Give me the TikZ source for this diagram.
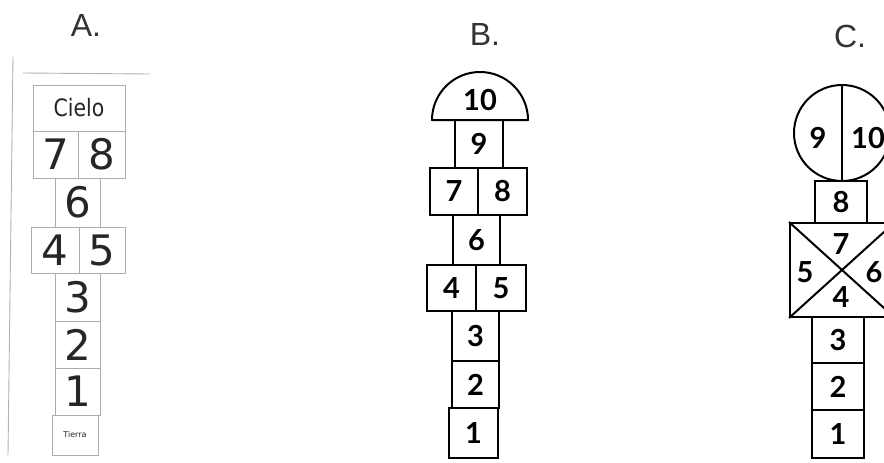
\documentclass[tikz,border=0pt]{standalone}
\usepackage{fontspec}
\setmainfont{DejaVu Sans}
\newfontfamily\lblfont{Liberation Sans}
\newfontfamily\afont{DejaVu Sans}
\newfontfamily\bfont{Lato}
\begin{document}
\begin{tikzpicture}[x=1pt,y=-1pt,
  acell/.style 2 args={draw=gray!65, line width=0.9pt, rectangle, inner sep=0pt,
     minimum width=#1pt, minimum height=#2pt, text=black!85, font=\afont\fontsize{42}{42}\selectfont},
  bcell/.style 2 args={draw=black, line width=2pt, rectangle, inner sep=0pt,
     minimum width=#1pt, minimum height=#2pt, font=\bfont\bfseries\fontsize{29}{29}\selectfont},
  blabel/.style={inner sep=0pt, font=\bfont\bfseries\fontsize{29}{29}\selectfont},
  title/.style={inner sep=0pt, font=\lblfont\fontsize{32}{32}\selectfont, text=black!80},
  guide/.style={draw=gray!60, line width=0.9pt}]
\clip (0,0) rectangle (884,463);
\fill[white] (0,0) rectangle (884,463);

% ---------- A ----------
\node[title] (tA) at (86,25) {A.};
\coordinate (gA1) at (13,57);
\coordinate (gA2) at (8,455);
\coordinate (gA3) at (23,73);
\coordinate (gA4) at (150,74);
\draw[guide] (gA1) -- (gA2);
\draw[guide] (gA3) -- (gA4);
\node[acell={92}{46}, font=\afont\fontsize{24}{24}\selectfont] (cielo) at (79,108) {\addfontfeature{FakeStretch=0.85}Cielo};
\node[acell={45}{47}] (a7) at (55.5,154.5) {7};
\node[acell={47}{47}] (a8) at (101.5,154.5) {8};
\node[acell={45}{49}] (a6) at (77.5,202.5) {6};
\node[acell={48}{46}] (a4) at (55,250) {4};
\node[acell={46}{46}] (a5) at (102,250) {5};
\node[acell={45}{48}] (a3) at (77.5,297) {3};
\node[acell={45}{47}] (a2) at (77.5,344.5) {2};
\node[acell={45}{47}] (a1) at (77.5,391.5) {1};
\node[acell={46}{40}, font=\afont\fontsize{8}{8}\selectfont] (tierra) at (75,435) {Tierra};

% ---------- B ----------
\node[title] (tB) at (485,34) {B.};
\coordinate (domeL) at (432,120);
\coordinate (domeR) at (528,120);
\draw[line width=2pt, line join=round] (domeL) arc[start angle=180, end angle=0, radius=48pt] -- (domeL) -- cycle;
\node[blabel] (b10) at (480,100) {10};
\node[bcell={48}{48}] (b9) at (479,144) {9};
\node[bcell={48}{47}] (b7) at (454,191.5) {7};
\node[bcell={49}{47}] (b8) at (502.5,191.5) {8};
\node[bcell={47}{50}] (b6) at (476.5,240) {6};
\node[bcell={49}{46}] (b4) at (451.5,288) {4};
\node[bcell={50}{46}] (b5) at (501,288) {5};
\node[bcell={47}{50}] (b3) at (475.5,336) {3};
\node[bcell={47}{47}] (b2) at (475.5,384.5) {2};
\node[bcell={49}{50}] (b1) at (473.5,433) {1};

% ---------- C ----------
\node[title] (tC) at (850,36) {C.};
\node[draw, line width=2pt, circle, minimum size=96pt, inner sep=0pt] (circ) at (842,133) {};
\draw[line width=2pt] (circ.north) -- (circ.south);
\node[blabel] (c9) at (818,138) {9};
\node[blabel] (c10) at (868,138) {10};
\node[bcell={52}{42}] (c8) at (841,202) {8};
\node[bcell={104}{94}] (xbox) at (842,270) {};
\draw[line width=2pt] (xbox.north west) -- (xbox.south east);
\draw[line width=2pt] (xbox.north east) -- (xbox.south west);
\node[blabel] (c7) at (841,244) {7};
\node[blabel] (c5) at (805,272) {5};
\node[blabel] (c6) at (874,272) {6};
\node[blabel] (c4) at (841,297) {4};
\node[bcell={52}{46}] (c3) at (838,340) {3};
\node[bcell={52}{47}] (c2) at (838,386.5) {2};
\node[bcell={52}{48}] (c1) at (838,434) {1};
\end{tikzpicture}
\end{document}
